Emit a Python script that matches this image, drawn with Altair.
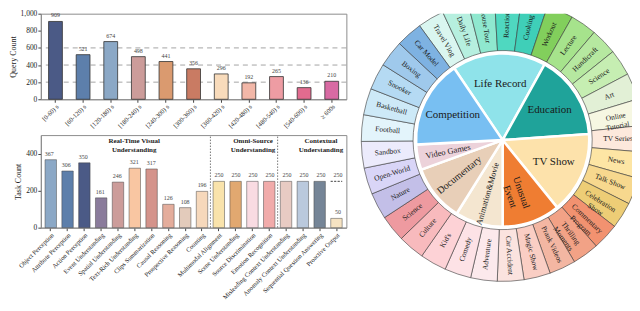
import math
import altair as alt
import pandas as pd

FONT = "Liberation Serif"

# ---------------- top chart: query count by duration ----------------
duration_bins = ["[0-60) s", "[60-120) s", "[120-180) s", "[180-240) s", "[240-300) s",
                 "[300-360) s", "[360-420) s", "[420-480) s", "[480-540) s", "[540-600) s", "≥ 600s"]
query_counts = [909, 521, 674, 498, 441, 356, 296, 192, 265, 136, 210]
duration_colors = ["#4b5a86", "#5d7fab", "#8ba8c6", "#cc9c9a", "#da9a6f", "#c97b63",
                   "#f8dbbb", "#f2b7a8", "#ee9ca3", "#e26b8f", "#d86aa3"]
query_grid = [200, 400, 600]
query_ticks = [0, 200, 400, 600, 800, 1000]

# ---------------- bottom chart: task count ----------------
task_names = ["Object Perception", "Attribute Perception", "Action Perception", "Event Understanding",
              "Spatial Understanding", "Text-Rich Understanding", "Clips Summarization", "Causal Reasoning",
              "Prospective Reasoning", "Counting", "Multimodal Alignment", "Scene Understanding",
              "Source Discrimination", "Emotion Recognition", "Misleading Context Understanding",
              "Anomaly Context Understanding", "Sequential Question Answering", "Proactive Output"]
task_counts = [367, 306, 350, 161, 246, 321, 317, 126, 108, 196, 250, 250, 250, 250, 250, 250, 250, 50]
task_colors = ["#8ba8c6", "#5d7fab", "#4b5a86", "#8a7b9b", "#cc9c9a", "#f9c6a2", "#d4938b", "#e4ad9c",
               "#e3cbbb", "#f6d8bb", "#f9e3ab", "#e1a870", "#f9dbe2", "#f1abaa", "#e8cbc3", "#bac9dd",
               "#758597", "#f6e3c2"]
task_ticks = [0, 100, 200, 300, 400, 500]
proactive_task = ["Proactive Output"]
proactive_target = [250]
group_center_title = ["Real-Time Visual\nUnderstanding"]
group_center_anchor = ["Text-Rich Understanding"]
group_pair_titles = ["Omni-Source\nUnderstanding", "Contextual\nUnderstanding"]
group_pair_anchor = ["Source Discrimination", "Sequential Question Answering"]
group_split_anchor = ["Multimodal Alignment", "Misleading Context Understanding"]

# ---------------- sunburst ----------------
inner_categories = ["Life Record", "Education", "TV Show", "Unusual\nEvent", "Animation&Movie",
                    "Documentary", "Video Games", "Competition"]
inner_shares = [63, 57, 55, 39, 32, 38, 17, 59]
inner_colors = ["#8fe3ea", "#1fa39a", "#fde2ab", "#ef7d32", "#f4e6d0", "#e8cfb8", "#ecd2da", "#78bff2"]

outer_categories = ["Travel Vlog", "Daily Life", "House Tour", "Reaction", "Cooking",
                    "Workout", "Lecture", "Handicraft", "Science", "Art", "Online\nTutorial",
                    "TV Series", "News", "Talk Show", "Celebration\nShow", "Commentary\nProgram",
                    "Thrilling\nMoments", "Prank Videos", "Magic Show", "Car Accident",
                    "Adventure", "Comedy", "Kid's", "Culture", "Science", "Nature",
                    "Open-World", "Sandbox", "Football", "Basketball", "Snooker", "Boxing", "Car Model"]
outer_shares = [1, 1, 1, 1, 1, 1, 1, 1, 1, 1, 1, 1, 1, 1, 1, 1, 1, 1, 1, 1, 1, 1, 1, 1, 1, 1, 1, 1, 1, 1, 1, 1, 1]
outer_colors = ["#daf6f0", "#b6efdf", "#8fe8cf", "#4fd8c0", "#3fcfb8",
                "#82cf5c", "#a6e38c", "#b6e8a0", "#c6eeb2", "#e2f0d6", "#f6f7e2",
                "#fde9dc", "#fde5a4", "#f7d88e", "#edcd76", "#f29270",
                "#f2a286", "#f3b6a2", "#facec4", "#fbe3df",
                "#fce9ec", "#fde2e6", "#fdd2d6", "#f8babd", "#ee9aa0", "#c3bfe8",
                "#d9d5f7", "#ecebfc", "#e3f4fb", "#cde9f7", "#b5daf3", "#9fc9ec", "#7eb2e2"]

INNER_START = -34
OUTER_START = -36

# ======================= top chart =======================
qdf = pd.DataFrame({"bin": duration_bins, "count": query_counts})
q_axis = alt.Axis(values=query_ticks, grid=False, tickSize=3, labelPadding=1, titlePadding=3)
q_scale = alt.Scale(domain=[0, 1000], nice=False)
xq = alt.X("bin:N", sort=duration_bins, title=None,
           scale=alt.Scale(paddingInner=0.5, paddingOuter=0.28),
           axis=alt.Axis(labelAngle=-45, labelFontSize=6.5, tickSize=3, labelPadding=1))

q_grid = alt.Chart(pd.DataFrame({"g": query_grid})).mark_rule(
    color="#9a9a9a", strokeDash=[5, 4], strokeWidth=0.9
).encode(y=alt.Y("g:Q", title="Query Count", scale=q_scale, axis=q_axis))

q_bars = alt.Chart(qdf).mark_bar(stroke="#333", strokeWidth=0.8).encode(
    x=xq,
    y=alt.Y("count:Q", title="Query Count", scale=q_scale, axis=q_axis),
    color=alt.Color("bin:N", scale=alt.Scale(domain=duration_bins, range=duration_colors), legend=None),
)
q_text = alt.Chart(qdf).mark_text(baseline="bottom", dy=-3, fontSize=6, font=FONT, color="#444").encode(
    x=xq, y=alt.Y("count:Q", title="Query Count", scale=q_scale, axis=q_axis), text="count:Q"
)
top = alt.layer(q_grid, q_bars, q_text).properties(width=307, height=86)

# ======================= bottom chart =======================
P_IN = 0.32
P_OUT = 0.25
tdf = pd.DataFrame({"task": task_names, "count": task_counts})
t_axis = alt.Axis(values=task_ticks, grid=False, tickSize=3, labelPadding=1, titlePadding=3)
t_scale = alt.Scale(domain=[0, 500], nice=False)
x_scale = alt.Scale(domain=task_names, paddingInner=P_IN, paddingOuter=P_OUT)
# a gap-aligned band scale: band edges fall on the middle of the gaps between bars
x_gap_scale = alt.Scale(domain=task_names, paddingInner=0, paddingOuter=P_OUT - P_IN / 2)
x_axis = alt.Axis(labelAngle=-45, labelFontSize=6.5, tickSize=3, labelPadding=1, labelLimit=200)


def xt(field, axis=None):
    return alt.X(field, title=None, scale=x_scale, axis=axis)


def xg(field, band):
    return alt.X(field, title=None, scale=x_gap_scale, axis=None, bandPosition=band)


def yt(field):
    return alt.Y(field, title="Task Count", scale=t_scale, axis=t_axis)


t_bars = alt.Chart(tdf).mark_bar(stroke="#444", strokeWidth=0.5).encode(
    x=xt("task:N", x_axis), y=yt("count:Q"),
    color=alt.Color("task:N", scale=alt.Scale(domain=task_names, range=task_colors), legend=None),
)
t_text = alt.Chart(tdf).mark_text(baseline="bottom", dy=-3, fontSize=6, font=FONT, color="#444").encode(
    x=xt("task:N"), y=yt("count:Q"), text="count:Q"
)
pdf = pd.DataFrame({"task": proactive_task, "target": proactive_target})
t_target = alt.Chart(pdf).mark_bar(fillOpacity=0, stroke="#555", strokeDash=[2, 1.5], strokeWidth=0.8).encode(
    x=xt("task:N"), y=yt("target:Q"), y2=alt.Y2("target:Q")
)
t_target_text = alt.Chart(pdf).mark_text(baseline="bottom", dy=-3, fontSize=6, font=FONT, color="#444").encode(
    x=xt("task:N"), y=yt("target:Q"), text="target:Q"
)
t_split = alt.Chart(pd.DataFrame({"task": group_split_anchor})).mark_rule(
    color="#555", strokeDash=[1.5, 1.5], strokeWidth=0.8
).encode(x=xg("task:N", 0), y=alt.datum(0, scale=t_scale), y2=alt.datum(500))
title_style = dict(baseline="top", fontSize=7, fontWeight="bold", font=FONT, lineBreak="\n", color="#222")
t_title1 = alt.Chart(pd.DataFrame({"task": group_center_anchor, "label": group_center_title})).mark_text(
    **title_style).encode(x=xg("task:N", 0.5), y=alt.datum(488), text="label:N")
t_title2 = alt.Chart(pd.DataFrame({"task": group_pair_anchor, "label": group_pair_titles})).mark_text(
    **title_style).encode(x=xg("task:N", 0), y=alt.datum(488), text="label:N")

bottom = alt.layer(t_bars, t_text, t_target, t_target_text, t_split, t_title1, t_title2).resolve_scale(
    x="independent").properties(width=307, height=93)

left = alt.vconcat(top, bottom, spacing=4).resolve_scale(color="independent")

# ======================= sunburst =======================
CX, CY = 152, 127
R_IN, R_OUT0, R_OUT1 = 87, 90, 142


def ring(names, shares, start_deg):
    df = pd.DataFrame({"name": names, "share": shares, "order": list(range(len(names)))})
    total = sum(shares)
    start = math.radians(start_deg)
    scale = alt.Scale(domain=[0, total], range=[start, start + 2 * math.pi])
    base = (
        alt.Chart(df)
        .transform_joinaggregate(total="sum(share)")
        .transform_window(cum="sum(share)", sort=[alt.SortField("order")], frame=[None, 0])
        .transform_calculate(
            t0="datum.cum - datum.share",
            tm="datum.cum - datum.share / 2",
            a=f"((datum.cum - datum.share / 2) / datum.total * 360 + {start_deg} + 720) % 360",
        )
        .transform_calculate(rot="(datum.a < 180 ? datum.a + 270 : datum.a + 90) % 360")
    )
    return base, scale


in_base, in_scale = ring(inner_categories, inner_shares, INNER_START)
out_base, out_scale = ring(outer_categories, outer_shares, OUTER_START)

arc_out = out_base.mark_arc(radius=R_OUT1, radius2=R_OUT0, stroke="#3a3a3a", strokeWidth=0.6, clip=True).encode(
    theta=alt.Theta("t0:Q", scale=out_scale, stack=None), theta2="cum:Q",
    color=alt.Color("order:N", scale=alt.Scale(domain=list(range(len(outer_categories))), range=outer_colors),
                    legend=None),
    x=alt.value(CX), y=alt.value(CY),
)
arc_in = in_base.mark_arc(radius=R_IN, radius2=0, stroke="white", strokeWidth=2.5, clip=True).encode(
    theta=alt.Theta("t0:Q", scale=in_scale, stack=None), theta2="cum:Q",
    color=alt.Color("name:N", scale=alt.Scale(domain=inner_categories, range=inner_colors), legend=None),
    x=alt.value(CX), y=alt.value(CY),
)
txt_out = out_base.mark_text(radius=(R_OUT0 + R_OUT1) / 2, font=FONT, fontSize=7.5, lineBreak="\n",
                             color="#1a1a1a", clip=True).encode(
    theta=alt.Theta("tm:Q", scale=out_scale, stack=None),
    text="name:N", angle=alt.Angle("rot:Q", scale=None),
    x=alt.value(CX), y=alt.value(CY),
)
txt_in = in_base.transform_calculate(
    rot_in="datum.share >= 50 ? 0 : datum.rot",
    fs="datum.share >= 50 ? 11 : (datum.share >= 35 ? 10 : 8.5)",
).mark_text(radius=56, font=FONT, lineBreak="\n", color="#1a1a1a", clip=True).encode(
    theta=alt.Theta("tm:Q", scale=in_scale, stack=None),
    text="name:N", angle=alt.Angle("rot_in:Q", scale=None), size=alt.Size("fs:Q", scale=None),
    x=alt.value(CX), y=alt.value(CY),
)

sun = alt.layer(arc_out, arc_in, txt_out, txt_in).resolve_scale(
    theta="independent", color="independent"
).properties(width=282, height=282, view=alt.ViewBackground(stroke=None))

chart = alt.hconcat(left, sun, spacing=4).resolve_scale(color="independent").properties(
    padding=0).configure(font=FONT).configure_view(
    stroke="#8c8c8c", strokeWidth=1
).configure_axis(
    labelFont=FONT, titleFont=FONT, labelFontSize=7.5, titleFontSize=8, titleFontWeight="normal",
    domainColor="#8c8c8c", tickColor="#444", labelColor="#222", titleColor="#222"
)

chart.save("out.html", embed_options={"renderer": "svg", "actions": False})
